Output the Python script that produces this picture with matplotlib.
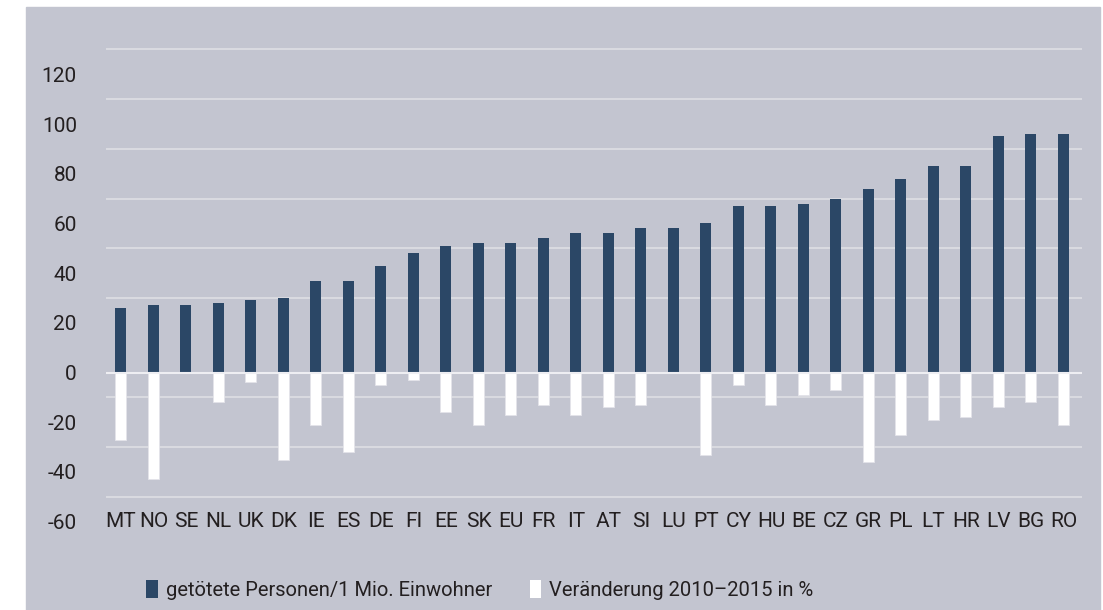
import numpy as np
import matplotlib.pyplot as plt
from matplotlib.patches import Patch, Rectangle

plt.rcParams['font.family'] = ['Liberation Sans Narrow', 'Roboto', 'DejaVu Sans']

# Data
countries = ['MT', 'NO', 'SE', 'NL', 'UK', 'DK', 'IE', 'ES', 'DE', 'FI',
             'EE', 'SK', 'EU', 'FR', 'IT', 'AT', 'SI', 'LU', 'PT', 'CY',
             'HU', 'BE', 'CZ', 'GR', 'PL', 'LT', 'HR', 'LV', 'BG', 'RO']
deaths_per_mio = [26, 27, 27, 28, 29, 30, 37, 37, 43, 48,
                  51, 52, 52, 54, 56, 56, 58, 58, 60, 67,
                  67, 68, 70, 74, 78, 83, 83, 95, 96, 96]
change_pct = [-27, -43, 0, -12, -4, -35, -21, -32, -5, -3,
              -16, -21, -17, -13, -17, -14, -13, 0, -33, -5,
              -13, -9, -7, -36, -25, -19, -18, -14, -12, -21]
yticks = [-60, -40, -20, 0, 20, 40, 60, 80, 100, 120]
grid_levels = [130, 110, 90, 70, 50, 30, -10, -30, -50]

dark = '#2b4766'
bg = '#c3c5d0'
txt = '#231f20'
fs = 15

fig = plt.figure(figsize=(11.03, 6.10), dpi=100, facecolor='white')
fig.patches.append(Rectangle((26/1103, 0), 1074/1103, 603/610,
                             transform=fig.transFigure, color=bg, zorder=-5))
ax = fig.add_axes([106/1103, 1 - 546.5/610, 976/1103, (546.5 - 24.6)/610])
ax.set_facecolor('none')
ax.set_zorder(2)

x = np.arange(len(countries))
for g in grid_levels:
    ax.axhline(g, color='#dcdde2', lw=1.3, zorder=1)
ax.bar(x, deaths_per_mio, width=0.34, color=dark, zorder=2)
ax.bar(x, change_pct, width=0.34, color='white', edgecolor='#e4e4ea',
       linewidth=0.6, zorder=2)
ax.axhline(0, color='#eeeef2', lw=1.5, zorder=3)

ax.set_xlim(-0.46, 29.57)
ax.set_ylim(-70, 140)
ax.set_yticks(yticks)
ax.set_yticklabels([str(v) for v in yticks], fontsize=fs, color=txt)
ax.tick_params(axis='y', length=0, pad=21)
ax.set_xticks([])
for i, c in enumerate(countries):
    ax.text(i, -60, c, ha='center', va='center', fontsize=fs, color=txt)
for s in ax.spines.values():
    s.set_visible(False)

handles = [Patch(facecolor=dark, edgecolor='none'),
           Patch(facecolor='white', edgecolor='none')]
leg = fig.legend(handles, ['getötete Personen/1 Mio. Einwohner',
                           'Veränderung 2010–2015 in %'],
                 loc='center', bbox_to_anchor=(480/1103, 1 - 590/610), ncol=2,
                 frameon=False, fontsize=14.5, handlelength=0.55, handleheight=1.0,
                 handletextpad=0.4, columnspacing=1.9, labelcolor=txt)
leg.set_zorder(3)

fig.savefig('out.png', dpi=100, facecolor='white')
